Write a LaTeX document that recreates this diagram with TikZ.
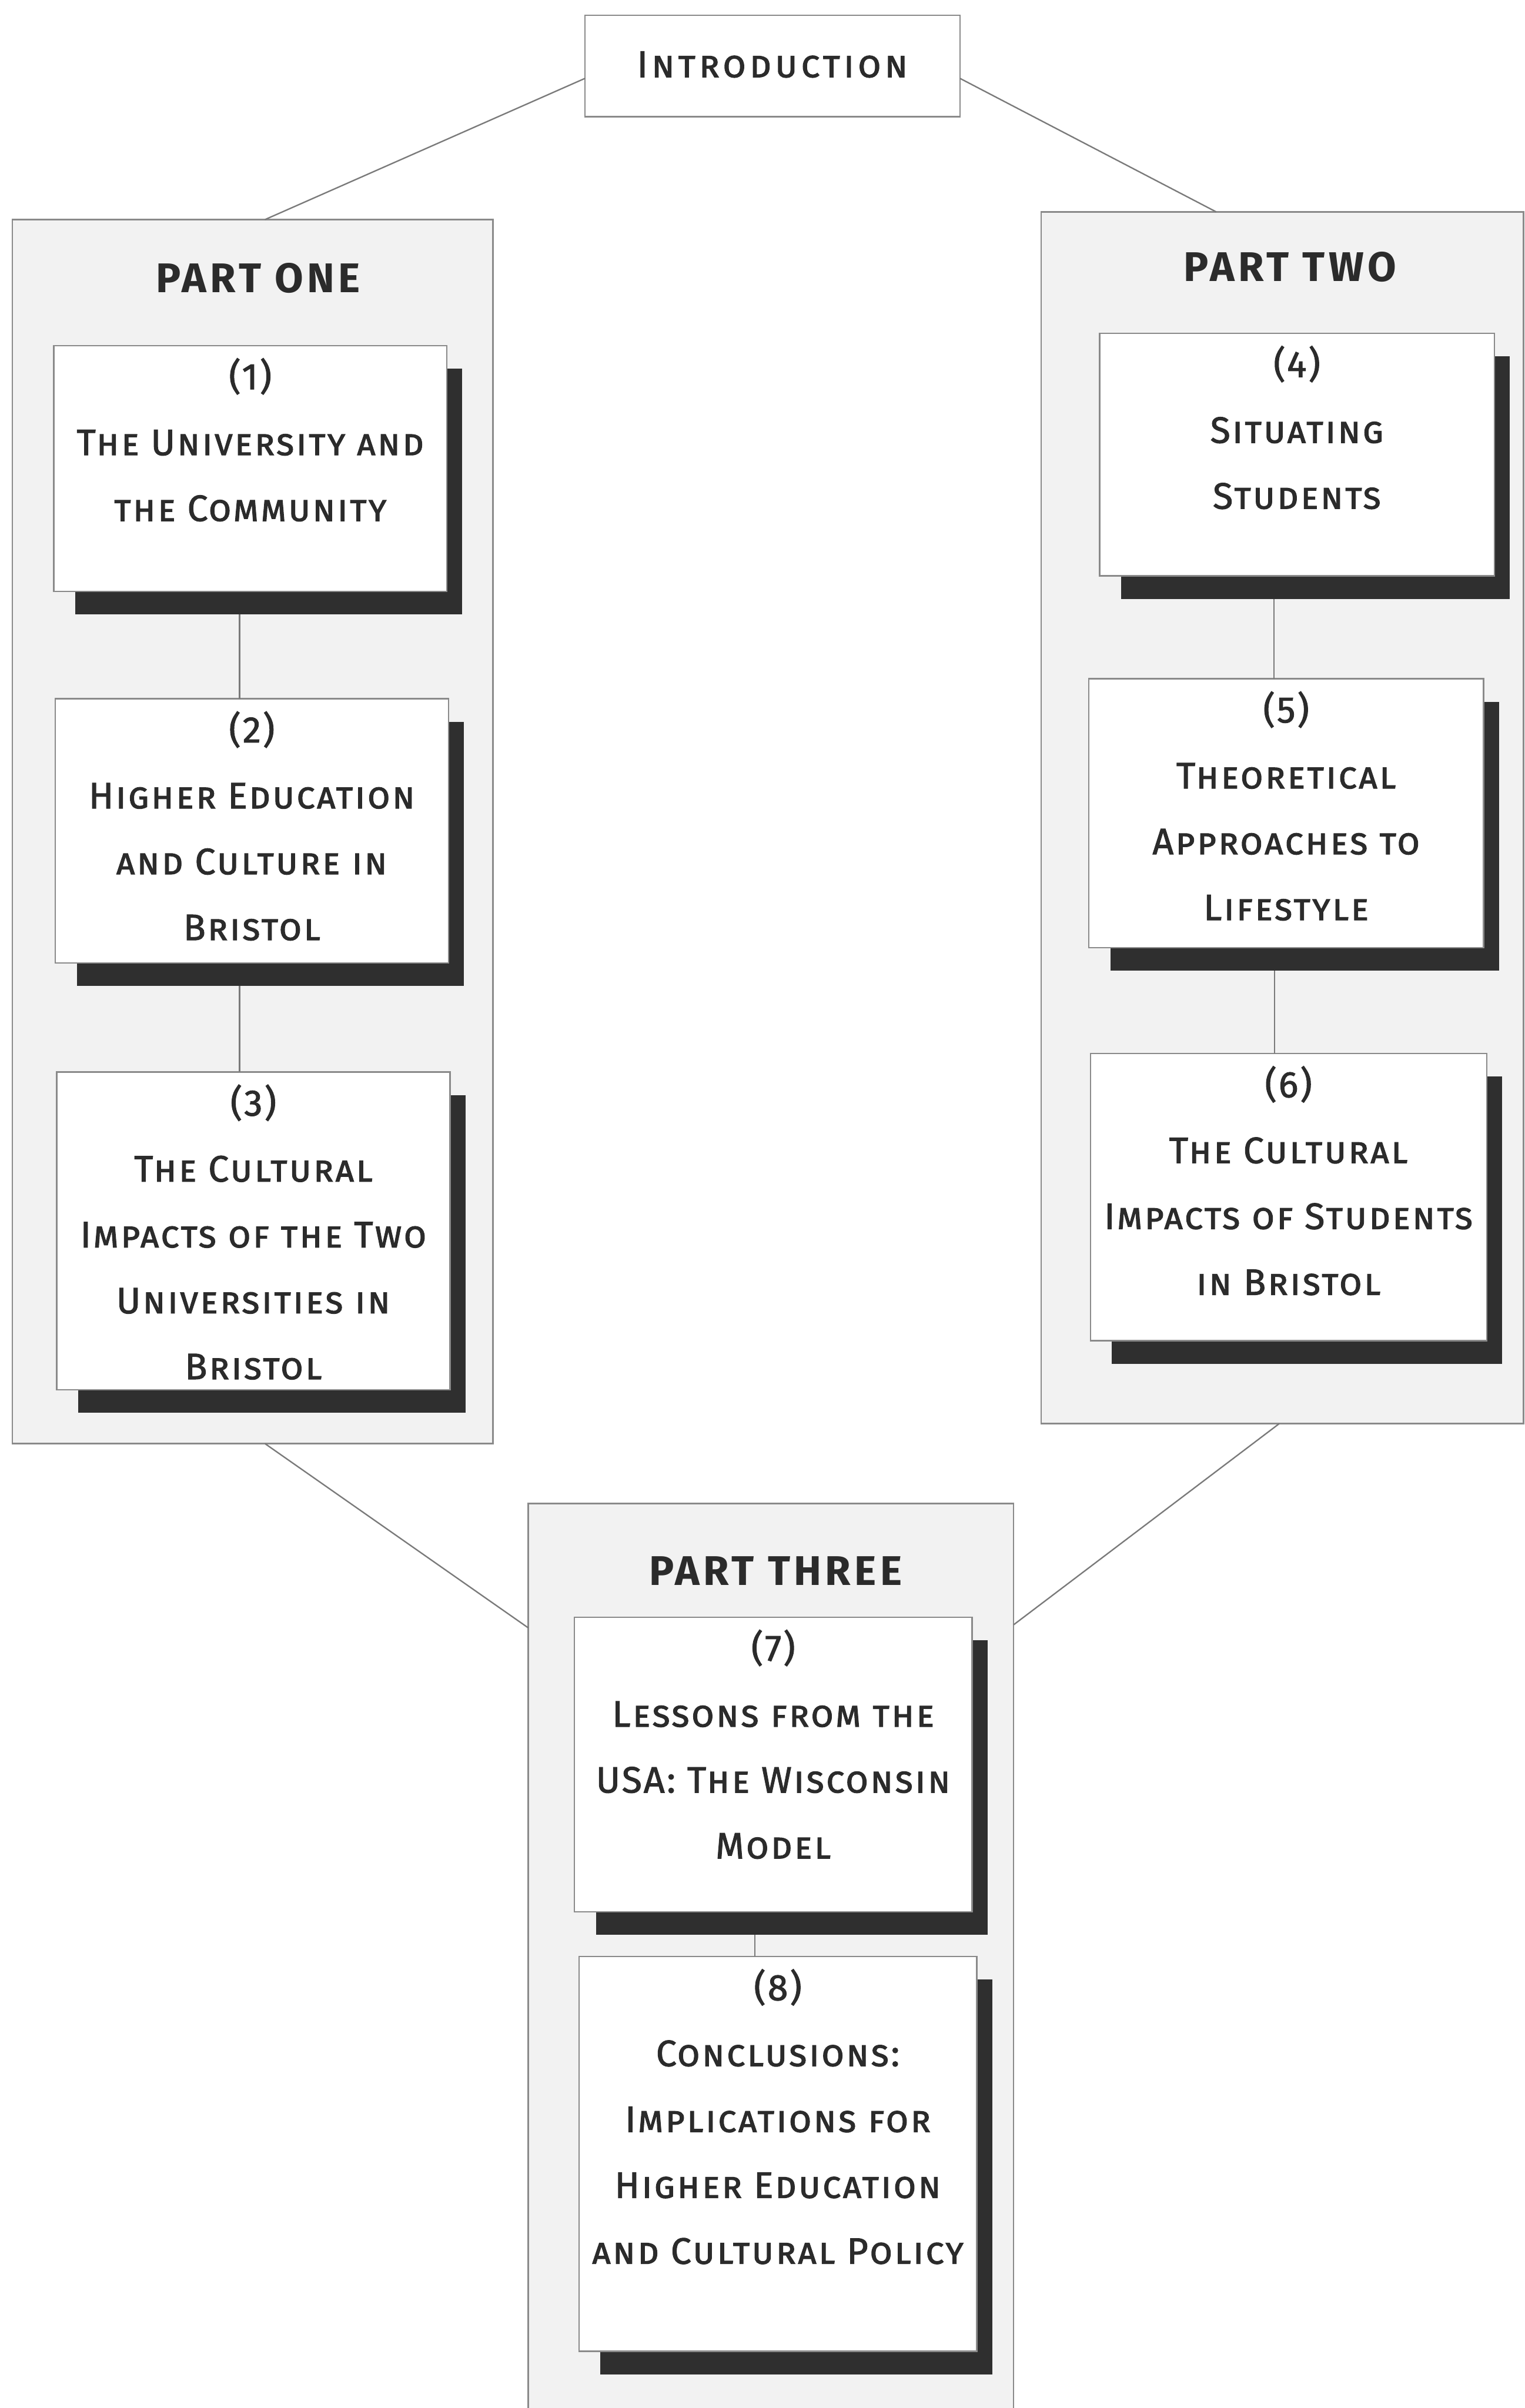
\documentclass[tikz,border=0pt]{standalone}
\usepackage{fontspec}
\setmainfont{Fira Sans}
\usetikzlibrary{calc}

\definecolor{inkc}{HTML}{2B2B2B}
\definecolor{edgec}{HTML}{8A8A8A}
\definecolor{partfill}{HTML}{F2F2F2}
\definecolor{shadowc}{HTML}{2F2F2F}
\definecolor{linkc}{HTML}{7A7A7A}

\tikzset{
  partbox/.style={draw=edgec, line width=1pt, fill=partfill, inner sep=0pt, outer sep=0pt, anchor=north west},
  chapbox/.style={draw=edgec, line width=0.9pt, fill=white, inner sep=0pt, outer sep=0pt, anchor=north west},
  introbox/.style={draw=edgec, line width=0.9pt, fill=white, inner sep=0pt, outer sep=0pt, anchor=north west},
  chaptext/.style={text=inkc, align=center, anchor=north, inner sep=0pt,
    font={\fontsize{24}{42.9}\selectfont\addfontfeatures{LetterSpace=5,FakeBold=1.6}\scshape}},
  parttitle/.style={text=inkc, inner sep=0pt,
    font={\fontsize{27}{30}\selectfont\bfseries\addfontfeatures{LetterSpace=9}}},
  link/.style={draw=linkc, line width=0.9pt},
}

% a chapter box with its dark drop shadow and its text
\newcommand\chapnode[6]{%
  \fill[shadowc] (#2+14,#3+15) rectangle (#4+10,#5+15);
  \node[chapbox, minimum width={(#4-#2)*1pt}, minimum height={(#5-#3)*1pt}] (#1) at (#2,#3) {};
  \node[chaptext] (#1t) at ($(#1.north)+(0,8)$) {#6};
}

\begin{document}
\begin{tikzpicture}[x=1pt, y=-1pt]
\useasboundingbox (0,0) rectangle (993,1568);
\fill[white] (0,0) rectangle (993,1568);

% the three part frames
\node[partbox, minimum width=313pt, minimum height=797pt] (p1) at (8,143) {};
\node[partbox, minimum width=314pt, minimum height=789pt] (p2) at (678,138) {};
\node[partbox, minimum width=316pt, minimum height=600pt] (p3) at (344,979) {};

\node[parttitle] (p1t) at (168,181) {PART ONE};
\node[parttitle] (p2t) at (840,174) {PART TWO};
\node[parttitle] (p3t) at (505,1023) {PART THREE};

% introduction
\node[introbox, minimum width=244pt, minimum height=66pt] (intro) at (381,10) {};
\node[text=inkc, inner sep=0pt,
  font={\fontsize{24.5}{28}\selectfont\addfontfeatures{LetterSpace=9,FakeBold=1.6}\scshape}]
  (introt) at ([yshift=1pt]intro.center) {Introduction};

% links between the parts
\draw[link] ([yshift=-8pt]intro.west) -- ([xshift=8pt]p1.north);
\draw[link] ([yshift=-8pt]intro.east) -- ([xshift=-43pt]p2.north);
\draw[link] ([xshift=8pt]p1.south) -- ([yshift=-81pt]p3.north west);
\draw[link] ([xshift=-2pt]p2.south) -- ([yshift=-79pt]p3.north east);

% chapter boxes
\chapnode{c1}{35}{225}{291}{385}{(1)\\The University and\\the Community}
\chapnode{c2}{36}{455}{292}{627}{(2)\\Higher Education\\and Culture in\\Bristol}
\chapnode{c3}{37}{698}{293}{905}{(3)\\The Cultural\\Impacts of the Two\\Universities in\\Bristol}
\chapnode{c4}{716}{217}{973}{375}{(4)\\Situating\\Students}
\chapnode{c5}{709}{442}{966}{617}{(5)\\Theoretical\\Approaches to\\Lifestyle}
\chapnode{c6}{710}{686}{968}{873}{(6)\\The Cultural\\Impacts of Students\\in Bristol}
\chapnode{c7}{374}{1053}{633}{1245}{(7)\\Lessons from the\\USA: The Wisconsin\\Model}
\chapnode{c8}{377}{1274}{636}{1531}{(8)\\Conclusions:\\Implications for\\Higher Education\\and Cultural Policy}

% links between chapters, from the foot of each shadow
\draw[link] ([xshift=-8pt]c2.north) -- ([xshift=-8pt,yshift=-15pt]c2.north |- c1.south);
\draw[link] ([xshift=-9pt]c3.north) -- ([xshift=-9pt,yshift=-15pt]c3.north |- c2.south);
\draw[link] ([xshift=-8pt]c5.north) -- ([xshift=-8pt,yshift=-15pt]c5.north |- c4.south);
\draw[link] ([xshift=-9pt]c6.north) -- ([xshift=-9pt,yshift=-15pt]c6.north |- c5.south);
\draw[link] ([xshift=-15pt]c8.north) -- ([xshift=-15pt,yshift=-15pt]c8.north |- c7.south);
\end{tikzpicture}
\end{document}
